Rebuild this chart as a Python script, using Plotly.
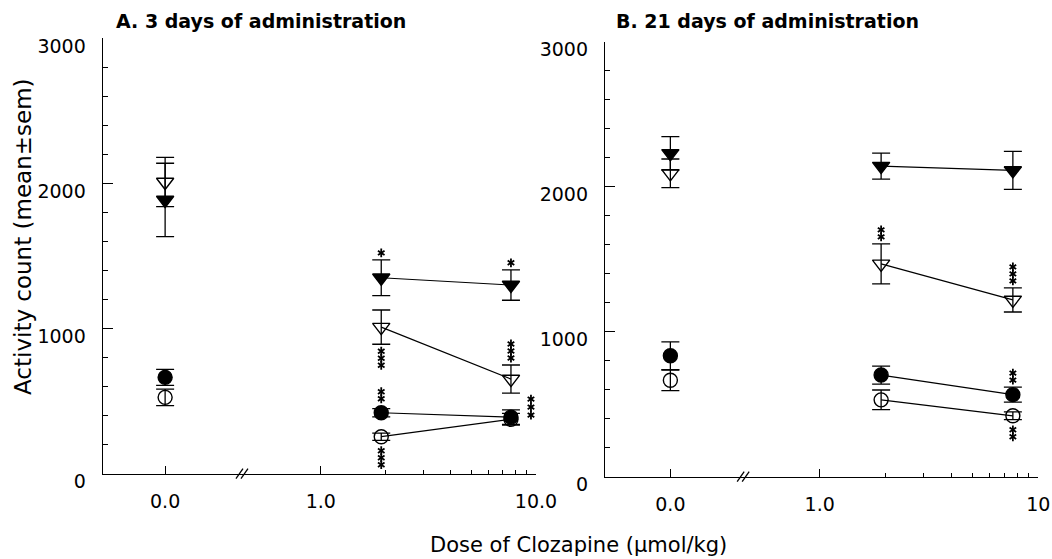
import numpy as np
import plotly.graph_objects as go

# ---------------- data ----------------
doses = [0.0, 1.91, 7.65]          # µmol/kg (0.0 = vehicle)
dose_labels_a = ["0.0", "1.0", "10.0"]
dose_labels_b = ["0.0", "1.0", "10"]
y_ticks = [0, 1000, 2000, 3000]

# Panel A: 3 days of administration
a_filled_tri = [1886, 1350, 1300]
a_filled_tri_sem = [253, 123, 105]
a_open_tri = [2010, 1010, 652]
a_open_tri_sem = [170, 118, 97]
a_filled_circ = [664, 420, 390]
a_filled_circ_sem = [55, 28, 50]
a_open_circ = [526, 255, 375]
a_open_circ_sem = [57, 25, 40]

# Panel B: 21 days of administration
b_filled_tri = [2230, 2142, 2112]
b_filled_tri_sem = [115, 90, 131]
b_open_tri = [2092, 1468, 1219]
b_open_tri_sem = [99, 138, 83]
b_filled_circ = [834, 701, 566]
b_filled_circ_sem = [96, 62, 52]
b_open_circ = [665, 530, 420]
b_open_circ_sem = [71, 68, 27]

# significance marks: (series, dose index, number of stars, side)
sig_a = [("filled_tri", 1, 1, "above"), ("filled_tri", 2, 1, "above"),
         ("open_tri", 1, 3, "below"), ("open_tri", 2, 3, "above"),
         ("filled_circ", 1, 2, "above"), ("filled_circ", 2, 3, "right"),
         ("open_circ", 1, 3, "below")]
sig_b = [("open_tri", 1, 2, "above"), ("open_tri", 2, 3, "above"),
         ("filled_circ", 2, 2, "above"), ("open_circ", 2, 2, "below")]

# ---------------- layout geometry ----------------
W, H = 1052, 559
FONT = "DejaVu Sans, Verdana, sans-serif"
panels = {
    "a": dict(xdom=[102.7 / W, 536.0 / W], ydom=[(H - 473.7) / H, (H - 38.3) / H],
              xr=[-1.013, 1.0], zero=-0.723, brk=-0.366, labels=dose_labels_a,
              data=dict(filled_tri=(a_filled_tri, a_filled_tri_sem),
                        open_tri=(a_open_tri, a_open_tri_sem),
                        filled_circ=(a_filled_circ, a_filled_circ_sem),
                        open_circ=(a_open_circ, a_open_circ_sem)),
              sig=sig_a),
    "b": dict(xdom=[605.0 / W, 1038.3 / W], ydom=[(H - 476.7) / H, (H - 41.7) / H],
              xr=[-0.982, 1.0], zero=-0.683, brk=-0.35, labels=dose_labels_b,
              data=dict(filled_tri=(b_filled_tri, b_filled_tri_sem),
                        open_tri=(b_open_tri, b_open_tri_sem),
                        filled_circ=(b_filled_circ, b_filled_circ_sem),
                        open_circ=(b_open_circ, b_open_circ_sem)),
              sig=sig_b),
}
styles = {
    "open_tri": dict(symbol="triangle-down-open", size=15),
    "filled_tri": dict(symbol="triangle-down", size=15),
    "open_circ": dict(symbol="circle-open", size=14),
    "filled_circ": dict(symbol="circle", size=14),
}
order = ["open_tri", "filled_tri", "open_circ", "filled_circ"]

fig = go.Figure()
shapes = []
for k, (key, p) in enumerate(panels.items()):
    xa = "x" if k == 0 else "x2"
    ya = "y" if k == 0 else "y2"
    xpos = [p["zero"] if d == 0 else np.log10(d) for d in doses]
    plot_h = (p["ydom"][1] - p["ydom"][0]) * H
    plot_w = (p["xdom"][1] - p["xdom"][0]) * W
    upp = 3000.0 / plot_h                    # data units per pixel (y)
    xpp = (p["xr"][1] - p["xr"][0]) / plot_w  # log units per pixel (x)

    for s in order:
        vals, sems = p["data"][s]
        st = styles[s]
        # connecting line between the two clozapine doses
        fig.add_trace(go.Scatter(x=xpos[1:], y=vals[1:], mode="lines",
                                 line=dict(color="black", width=1.2),
                                 xaxis=xa, yaxis=ya, showlegend=False, hoverinfo="skip"))
        fig.add_trace(go.Scatter(
            x=xpos, y=vals, mode="markers",
            marker=dict(symbol=st["symbol"], size=st["size"], color="black",
                        line=dict(color="black", width=1.4)),
            error_y=dict(type="data", array=sems, color="black", thickness=1.3, width=9),
            xaxis=xa, yaxis=ya, showlegend=False))

    # significance asterisks
    sx, sy = [], []
    for s, i, n, side in p["sig"]:
        vals, sems = p["data"][s]
        half = max(sems[i], 7 * upp)
        for j in range(n):
            if side == "above":
                sx.append(xpos[i]); sy.append(vals[i] + half + (7 + 7 * j) * upp)
            elif side == "below":
                sx.append(xpos[i]); sy.append(vals[i] - half - (7 + 7 * j) * upp)
            else:
                sx.append(xpos[i] + 20 * xpp); sy.append(vals[i] + (18 - 8 * j) * upp)
    for sym in ["y-up-open", "y-down-open"]:
        fig.add_trace(go.Scatter(x=sx, y=sy, mode="markers",
                                 marker=dict(symbol=sym, size=5.5, color="black",
                                             line=dict(color="black", width=1.8)),
                                 xaxis=xa, yaxis=ya, showlegend=False, hoverinfo="skip"))

    axis_common = dict(showline=True, linecolor="black", linewidth=1.3, showgrid=False,
                       zeroline=False, ticks="inside", tickcolor="black", tickwidth=1.2,
                       automargin=False,
                       tickfont=dict(family=FONT, size=19, color="black"))
    fig.update_layout(**{
        ("xaxis" if k == 0 else "xaxis2"): dict(
            domain=p["xdom"], range=p["xr"], anchor=ya, tickmode="array",
            tickvals=[p["zero"], 0, 1], ticktext=p["labels"], ticklen=8,
            ticklabelstandoff=10,
            minor=dict(tickmode="array", tickvals=[np.log10(v) for v in range(2, 10)],
                       ticks="inside", ticklen=4, tickcolor="black", tickwidth=1.2),
            **axis_common),
        ("yaxis" if k == 0 else "yaxis2"): dict(
            domain=p["ydom"], range=[0, 3000], anchor=xa, tickmode="array",
            tickvals=y_ticks, ticklen=10, ticklabelstandoff=12, ticklabelshift=8,
            minor=dict(dtick=200, ticks="inside", ticklen=5, tickcolor="black", tickwidth=1.2),
            **axis_common),
    })
    # axis break marks "//"
    bx = p["xdom"][0] + (p["brk"] - p["xr"][0]) / (p["xr"][1] - p["xr"][0]) * (p["xdom"][1] - p["xdom"][0])
    by = p["ydom"][0]
    for off in (-2.5, 2.5):
        shapes.append(dict(type="line", xref="paper", yref="paper",
                           x0=bx + (off - 3.5) / W, y0=by - 5 / H, x1=bx + (off + 3.5) / W, y1=by + 5 / H,
                           line=dict(color="black", width=1.3)))

annotations = [
    dict(text="<b>A. 3 days of administration</b>", x=114 / W, y=1 - 21 / H, xref="paper",
         yref="paper", xanchor="left", yanchor="middle", showarrow=False,
         font=dict(family=FONT, size=19, color="black")),
    dict(text="<b>B. 21 days of administration</b>", x=614 / W, y=1 - 21 / H, xref="paper",
         yref="paper", xanchor="left", yanchor="middle", showarrow=False,
         font=dict(family=FONT, size=19, color="black")),
    dict(text="Activity count (mean±sem)", x=23 / W, y=1 - 237 / H, xref="paper", yref="paper",
         xanchor="center", yanchor="middle", textangle=-90, showarrow=False,
         font=dict(family=FONT, size=23, color="black")),
    dict(text="Dose of Clozapine (µmol/kg)", x=578 / W, y=1 - 545 / H, xref="paper",
         yref="paper", xanchor="center", yanchor="middle", showarrow=False,
         font=dict(family=FONT, size=21, color="black")),
]

fig.update_layout(width=W, height=H, margin=dict(l=0, r=0, t=0, b=0),
                  paper_bgcolor="white", plot_bgcolor="white",
                  shapes=shapes, annotations=annotations, showlegend=False,
                  font=dict(family=FONT, color="black"))
fig.write_html("out.html", config={"displayModeBar": False},
               post_script="document.body.style.margin='0px';document.body.style.padding='0px';")
